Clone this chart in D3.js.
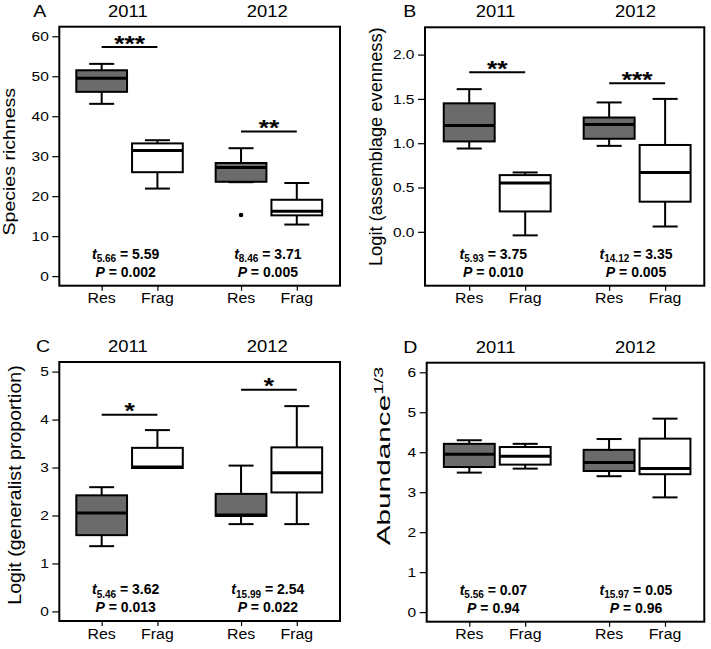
<!DOCTYPE html>
<html><head><meta charset="utf-8">
<script src="https://cdn.jsdelivr.net/npm/d3@7/dist/d3.min.js"></script>
<style>body{margin:0;background:#fff} svg{display:block}</style>
</head><body><svg id="c" width="711" height="649"></svg>
<script>
// ---------------- data ----------------
const years = ["2011", "2012"];
const groups = ["Res", "Frag"];
// five-number summaries [lower whisker, Q1, median, Q3, upper whisker]
// order: 2011 Res, 2011 Frag, 2012 Res, 2012 Frag
const richnessStats = [[43.1, 46.1, 49.5, 51.5, 53.1], [21.9, 26.0, 31.4, 33.2, 34.0], [23.5, 23.6, 27.2, 28.3, 32.0], [12.9, 15.2, 16.2, 19.1, 23.3]];
const richnessOutliers = [[], [], [15.3], []];
const evennessStats = [[0.94, 1.02, 1.20, 1.45, 1.61], [-0.04, 0.23, 0.55, 0.64, 0.67], [0.97, 1.05, 1.21, 1.29, 1.46], [0.06, 0.34, 0.67, 0.98, 1.50]];
const generalistStats = [[1.36, 1.59, 2.05, 2.42, 2.59], [2.99, 2.99, 3.01, 3.41, 3.78], [1.82, 1.99, 2.01, 2.45, 3.04], [1.82, 2.48, 2.89, 3.42, 4.28]];
const abundanceStats = [[3.49, 3.63, 3.95, 4.21, 4.30], [3.59, 3.69, 3.90, 4.13, 4.21], [3.40, 3.53, 3.74, 4.06, 4.33], [2.87, 3.45, 3.59, 4.34, 4.84]];
const noOutliers = [[], [], [], []];

const richnessTicks = [0, 10, 20, 30, 40, 50, 60];
const evennessTicks = [0, 0.5, 1, 1.5, 2];
const generalistTicks = [0, 1, 2, 3, 4, 5];
const abundanceTicks = [0, 1, 2, 3, 4, 5, 6];

const richnessSig = [57.3, 36.2], richnessStars = ["***", "**"];
const evennessSig = [1.80, 1.676], evennessStars = ["**", "***"];
const generalistSig = [4.10, 4.62], generalistStars = ["*", "*"];

const richnessDf = ["5.66", "8.46"], richnessT = ["5.59", "3.71"], richnessP = ["0.002", "0.005"];
const evennessDf = ["5.93", "14.12"], evennessT = ["3.75", "3.35"], evennessP = ["0.010", "0.005"];
const generalistDf = ["5.46", "15.99"], generalistT = ["3.62", "2.54"], generalistP = ["0.013", "0.022"];
const abundanceDf = ["5.56", "15.97"], abundanceT = ["0.07", "0.05"], abundanceP = ["0.94", "0.96"];

// ---------------- layout ----------------
const FONT = '"Liberation Sans", Arial, Helvetica, sans-serif';
const fills = { Res: "#6b6b6b", Frag: "#ffffff" };
const posOf = i => 1 + (i % 2) + Math.floor(i / 2) * 2.5; // category index -> axis position

const panels = [
  { letter: "A", letterX: 33.3, frame: { l: 59.3, r: 340, t: 26.7, b: 285.7 }, xd: [0.24, 5.275], yd: [-2.4, 62.4],
    stats: richnessStats, outliers: richnessOutliers, ticks: richnessTicks, fmt: d3.format("d"),
    sig: richnessSig, stars: richnessStars, df: richnessDf, tv: richnessT, pv: richnessP,
    ylab: { text: "Species richness", x: 15, y: 161.7, size: 17, sx: 1.15 } },
  { letter: "B", letterX: 403.3, frame: { l: 425, r: 704.3, t: 27.3, b: 285.7 }, xd: [0.21, 5.2], yd: [-0.608, 2.308],
    stats: evennessStats, outliers: noOutliers, ticks: evennessTicks, fmt: d3.format(".1f"),
    sig: evennessSig, stars: evennessStars, df: evennessDf, tv: evennessT, pv: evennessP,
    ylab: { text: "Logit (assemblage evenness)", x: 381.5, y: 146.7, size: 18.3, sx: 1 } },
  { letter: "C", letterX: 36, frame: { l: 59.3, r: 340, t: 362, b: 621 }, xd: [0.24, 5.275], yd: [-0.2, 5.2],
    stats: generalistStats, outliers: noOutliers, ticks: generalistTicks, fmt: d3.format("d"),
    sig: generalistSig, stars: generalistStars, df: generalistDf, tv: generalistT, pv: generalistP,
    ylab: { text: "Logit (generalist proportion)", x: 21.3, y: 485, size: 17.8, sx: 1.1 } },
  { letter: "D", letterX: 403.3, frame: { l: 426.7, r: 704.3, t: 362.7, b: 621.7 }, xd: [0.238, 5.203], yd: [-0.24, 6.24],
    stats: abundanceStats, outliers: noOutliers, ticks: abundanceTicks, fmt: d3.format("d"),
    sig: [], stars: [], df: abundanceDf, tv: abundanceT, pv: abundanceP,
    ylab: { text: "Abundance", sup: "1/3", x: 390, y: 456, size: 18.6, sx: 1.6 } }
];

const svg = d3.select("#c");

function label(g, x, y, str, o) {
  const t = g.append("text")
    .attr("transform", `translate(${x},${y}) rotate(${o.rot || 0}) scale(${o.sx || 1},1)`)
    .attr("font-family", FONT).attr("font-size", o.size)
    .attr("font-weight", o.weight || "normal")
    .attr("text-anchor", o.anchor || "middle").attr("fill", "#000");
  if (o.dy) t.attr("dy", o.dy);
  if (str !== null) t.text(str);
  return t;
}

panels.forEach(p => {
  const g = svg.append("g");
  const f = p.frame;
  const x = d3.scaleLinear().domain(p.xd).range([f.l, f.r]);
  const y = d3.scaleLinear().domain(p.yd).range([f.b, f.t]);
  const bw = 0.455, cw = 0.224;

  // y axis
  const ya = g.append("g").attr("transform", `translate(${f.l},0)`)
    .call(d3.axisLeft(y).tickValues(p.ticks).tickFormat(p.fmt).tickSize(7).tickPadding(3));
  ya.select(".domain").remove();
  ya.selectAll(".tick line").attr("stroke", "#000").attr("stroke-width", 1.2);
  ya.selectAll(".tick text").remove();
  p.ticks.forEach(v => label(g, f.l - 10.5, y(v), p.fmt(v), { size: 13.5, sx: 1.15, anchor: "end", dy: "0.36em" }));

  // x axis ticks + labels
  const cats = p.stats.map((_, i) => posOf(i));
  const xa = g.append("g").attr("transform", `translate(0,${f.b})`)
    .call(d3.axisBottom(x).tickValues(cats).tickSize(5).tickFormat(""));
  xa.select(".domain").remove();
  xa.selectAll(".tick line").attr("stroke", "#000").attr("stroke-width", 1.2);
  cats.forEach((c, i) => label(g, x(c), f.b + 17.5, groups[i % 2], { size: 15, sx: 1.06 }));

  // year titles
  years.forEach((yr, j) => label(g, x(1.47 + j * 2.5), f.t - 10, yr, { size: 16, sx: 1.15 }));
  // panel letter
  label(g, p.letterX, f.t - 10, p.letter, { size: 16.3, sx: 1.2, anchor: "start" });

  // boxes
  p.stats.forEach((s, i) => {
    const c = posOf(i);
    const [lo, q1, med, q3, hi] = s;
    const line = (x1, y1, x2, y2, w) => g.append("line").attr("x1", x1).attr("y1", y1).attr("x2", x2).attr("y2", y2)
      .attr("stroke", "#000").attr("stroke-width", w);
    line(x(c), y(hi), x(c), y(q3), 2);
    line(x(c), y(q1), x(c), y(lo), 2);
    line(x(c - cw), y(hi), x(c + cw), y(hi), 2);
    line(x(c - cw), y(lo), x(c + cw), y(lo), 2);
    g.append("rect").attr("x", x(c - bw)).attr("y", y(q3)).attr("width", x(c + bw) - x(c - bw))
      .attr("height", y(q1) - y(q3)).attr("fill", fills[groups[i % 2]]).attr("stroke", "#000").attr("stroke-width", 2);
    line(x(c - bw), y(med), x(c + bw), y(med), 3);
    p.outliers[i].forEach(v => g.append("circle").attr("cx", x(c)).attr("cy", y(v)).attr("r", 2.3).attr("fill", "#000"));
  });

  // significance bars
  p.sig.forEach((v, j) => {
    const a = posOf(j * 2), b = posOf(j * 2 + 1);
    g.append("line").attr("x1", x(a)).attr("x2", x(b)).attr("y1", y(v)).attr("y2", y(v))
      .attr("stroke", "#000").attr("stroke-width", 2);
    label(g, x((a + b) / 2), y(v) + 3.5, p.stars[j], { size: 22, sx: 1.2, weight: "bold" });
  });

  // test statistics
  years.forEach((yr, j) => {
    const cx = x(j === 0 ? 1.43 : 3.98);
    const t1 = label(g, cx, f.b - 27, null, { size: 14, weight: "bold" });
    t1.append("tspan").attr("font-style", "italic").text("t");
    t1.append("tspan").attr("font-size", 10).attr("dy", 3.5).text(p.df[j]);
    t1.append("tspan").attr("dy", -3.5).text(" = " + p.tv[j]);
    const t2 = label(g, cx, f.b - 9, null, { size: 14, weight: "bold" });
    t2.append("tspan").attr("font-style", "italic").text("P");
    t2.append("tspan").text(" = " + p.pv[j]);
  });

  // frame
  g.append("rect").attr("x", f.l).attr("y", f.t).attr("width", f.r - f.l).attr("height", f.b - f.t)
    .attr("fill", "none").attr("stroke", "#000").attr("stroke-width", 2);

  // y label
  const yl = label(g, p.ylab.x, p.ylab.y, null, { size: p.ylab.size, sx: p.ylab.sx, rot: -90 });
  yl.append("tspan").text(p.ylab.text);
  if (p.ylab.sup) yl.append("tspan").attr("font-size", p.ylab.size * 0.68).attr("dy", -7).text(p.ylab.sup);
});
</script></body></html>
